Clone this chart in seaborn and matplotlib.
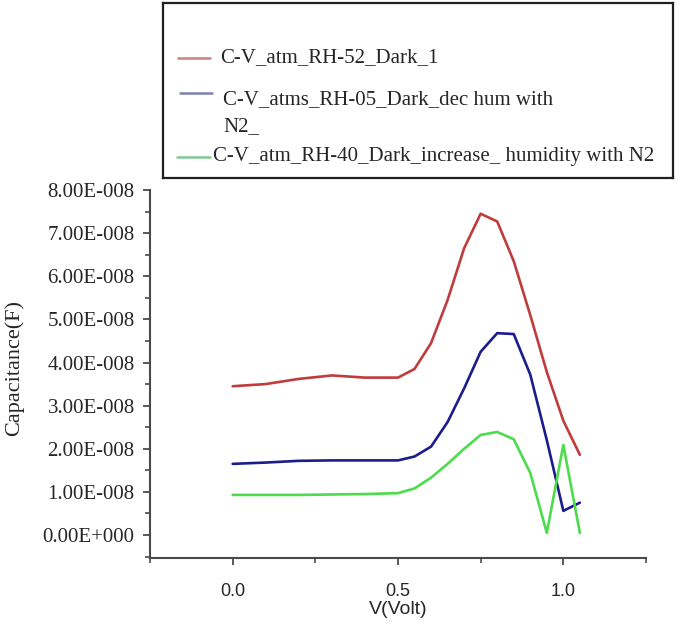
import numpy as np
import pandas as pd
import matplotlib
matplotlib.use("Agg")
import matplotlib.pyplot as plt
from matplotlib.ticker import MultipleLocator, FixedLocator, FixedFormatter
import seaborn as sns

# ---- data (values in units of 1e-8 F) ----
voltage = [0.0, 0.1, 0.2, 0.3, 0.4, 0.5, 0.55, 0.6, 0.65, 0.7, 0.75, 0.8, 0.85, 0.9, 0.95, 1.0, 1.05]
cap_rh52 = [3.45, 3.50, 3.62, 3.70, 3.65, 3.65, 3.85, 4.45, 5.45, 6.65, 7.45, 7.27, 6.35, 5.10, 3.78, 2.65, 1.86]
cap_rh05 = [1.65, 1.68, 1.72, 1.73, 1.73, 1.73, 1.82, 2.05, 2.62, 3.40, 4.25, 4.68, 4.66, 3.72, 2.20, 0.56, 0.75]
cap_rh40 = [0.93, 0.93, 0.93, 0.94, 0.95, 0.97, 1.08, 1.33, 1.65, 2.00, 2.32, 2.39, 2.22, 1.44, 0.05, 2.09, 0.05]
series_names = ["C-V_atm_RH-52_Dark_1",
                "C-V_atms_RH-05_Dark_dec hum with N2_",
                "C-V_atm_RH-40_Dark_increase_ humidity with N2"]
legend_lines = [["C-V_atm_RH-52_Dark_1"],
                ["C-V_atms_RH-05_Dark_dec hum with", "N2_"],
                ["C-V_atm_RH-40_Dark_increase_ humidity with N2"]]
colors = ["#c03c3c", "#1c1c8c", "#4cdc4c"]
legend_colors = ["#c88080", "#8080b0", "#80c890"]
y_ticks = [0, 1, 2, 3, 4, 5, 6, 7, 8]
y_ticklabels = ["0.00E+000", "1.00E-008", "2.00E-008", "3.00E-008", "4.00E-008",
                "5.00E-008", "6.00E-008", "7.00E-008", "8.00E-008"]
x_ticks = [0.0, 0.5, 1.0]
x_ticklabels = ["0.0", "0.5", "1.0"]

scale = 1e-8
df = pd.concat([
    pd.DataFrame({"V": voltage, "C": np.array(vals) * scale, "series": name})
    for name, vals in zip(series_names, [cap_rh52, cap_rh05, cap_rh40])
])

sns.set_style("ticks")
plt.rcParams["font.family"] = ["Liberation Serif", "DejaVu Serif"]

W, H = 685, 624

def fx(px):
    return px / W

def fy(py):
    return 1 - py / H

fig = plt.figure(figsize=(W / 100, H / 100), dpi=100)
ax = fig.add_axes([fx(150), fy(558), fx(646) - fx(150), fy(190) - fy(558)])
sns.lineplot(data=df, x="V", y="C", hue="series", palette=colors, ax=ax,
             legend=False, linewidth=1.9, sort=False, estimator=None)
ax.set_xlim(-0.25, 1.25)
ax.set_ylim(-0.533 * scale, 8 * scale)
ax.xaxis.set_major_locator(FixedLocator(x_ticks))
ax.xaxis.set_major_formatter(FixedFormatter(x_ticklabels))
ax.xaxis.set_minor_locator(MultipleLocator(0.25))
ax.yaxis.set_major_locator(FixedLocator([t * scale for t in y_ticks]))
ax.yaxis.set_major_formatter(FixedFormatter(y_ticklabels))
ax.yaxis.set_minor_locator(MultipleLocator(0.5 * scale))
for s in ["top", "right"]:
    ax.spines[s].set_visible(False)
for s in ["left", "bottom"]:
    ax.spines[s].set_color("#4a4a4a")
    ax.spines[s].set_linewidth(1.5)
ax.tick_params(axis="both", which="major", direction="out", length=5, width=1.3, color="#4a4a4a")
ax.tick_params(axis="both", which="minor", direction="out", length=3.5, width=1.2, color="#4a4a4a")
ax.tick_params(axis="y", which="major", pad=6)
ax.tick_params(axis="x", which="major", pad=13)
for lab in ax.get_yticklabels():
    lab.set_fontfamily(["Liberation Serif"])
    lab.set_fontsize(15)
for lab in ax.get_xticklabels():
    lab.set_fontfamily(["Liberation Sans"])
    lab.set_fontsize(13)
ax.set_xlabel("V(Volt)", fontfamily="Liberation Sans", fontsize=14, labelpad=1)
ax.set_ylabel("")
fig.text(fx(14), fy(368), "Capacitance(F)", rotation=90, ha="center", va="center",
         fontfamily="Liberation Serif", fontsize=16)

# ---- legend box (pixel coordinates inside the box) ----
lax = fig.add_axes([fx(163), fy(178), fx(673) - fx(163), fy(3) - fy(178)])
lax.set_xlim(163, 673)
lax.set_ylim(178, 3)
lax.set_xticks([])
lax.set_yticks([])
for s in lax.spines.values():
    s.set_color("#202020")
    s.set_linewidth(1.6)

handle_x = [(178, 210), (180, 212), (177, 210)]
handle_y = [58, 93, 157]
text_x = [220, 223, 213]
text_y = [[58], [100, 127], [157]]
for hx, hy, tx, tys, lines, c in zip(handle_x, handle_y, text_x, text_y, legend_lines, legend_colors):
    lax.plot(list(hx), [hy, hy], color=c, linewidth=1.8)
    for ty, line in zip(tys, lines):
        lax.text(tx, ty, line, ha="left", va="center", fontsize=15,
                 fontfamily="Liberation Serif")

fig.savefig("out.png", dpi=100, facecolor="white")
